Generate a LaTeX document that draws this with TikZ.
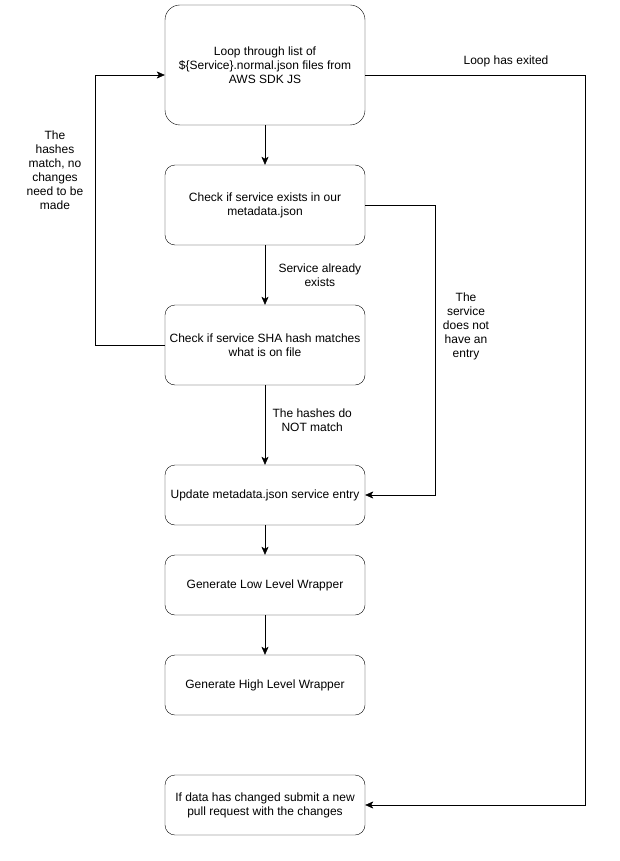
\documentclass[tikz,border=0pt]{standalone}
\usepackage{fontspec}
\setmainfont{Liberation Sans}
\usetikzlibrary{arrows.meta}
\begin{document}
\begin{tikzpicture}[x=1pt, y=-1pt,
    process/.style ={rectangle, draw, rounded corners=10pt, minimum width=200pt,
      minimum height=60pt, align=center, font=\fontsize{12}{14}\selectfont},
    note/.style ={align=center, font=\fontsize{12}{14}\selectfont},
    flow/.style ={draw, -{Stealth[length=8pt, width=7pt, inset=2pt]}}]
   \useasboundingbox (0,0) rectangle (619,861);
   \node[process, minimum height=120pt, rounded corners=15pt] (loop) at (265,65)
     {Loop through list of\\\$\{Service\}.normal.json files from\\AWS SDK JS};
   \node[process, minimum height=80pt] (check) at (265,205)
     {Check if service exists in our\\metadata.json};
   \node[process, minimum height=80pt] (hash) at (265,345)
     {Check if service SHA hash matches\\what is on file};
   \node[process] (update) at (265,495) {Update metadata.json service entry};
   \node[process] (low) at (265,585) {Generate Low Level Wrapper};
   \node[process] (high) at (265,685) {Generate High Level Wrapper};
   \node[process] (pr) at (265,805)
     {If data has changed submit a new\\pull request with the changes};
   \draw[flow] (loop) -- (check);
   \draw[flow] (check) -- node[note, right=10pt] {Service already\\exists} (hash);
   \draw[flow] (hash) -- node[note, right=4pt, yshift=5pt] {The hashes do\\NOT match} (update);
   \draw[flow] (update) -- (low);
   \draw[flow] (low) -- (high);
   \draw[flow] (hash.west) -- ++(-70,0) |- ([yshift=-10pt]loop.west);
   \node[note] (matchnote) at (55,170) {The\\hashes\\match, no\\changes\\need to be\\made};
   \draw[flow] ([yshift=-10pt]loop.east) -- ++(220,0) |- (pr.east);
   \node[note] (exitnote) at (506,61) {Loop has exited};
   \draw[flow] (check.east) -- ++(70,0) |- (update.east);
   \node[note] (newnote) at (466,326) {The\\service\\does not\\have an\\entry};
 \end{tikzpicture}
\end{document}
